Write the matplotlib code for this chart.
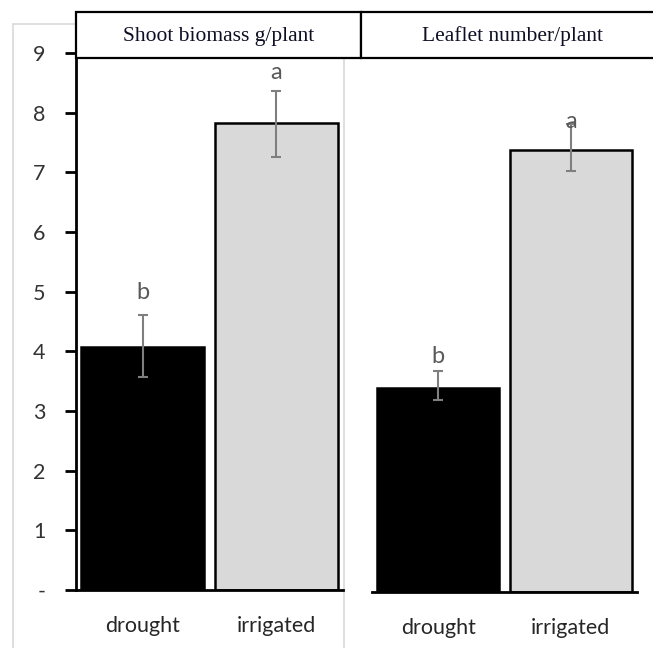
import matplotlib.pyplot as plt
from matplotlib.patches import Rectangle

# values
categories    = ['drought', 'irrigated']
shoot_mean    = [4.07, 7.83]
shoot_err_lo  = [0.50, 0.57]
shoot_err_hi  = [0.54, 0.53]
shoot_letters = ['b', 'a']
shoot_let_y   = [4.98, 8.68]

leaf_mean     = [3.42, 7.41]
leaf_err_lo   = [0.20, 0.35]
leaf_err_hi   = [0.28, 0.43]
leaf_letters  = ['b', 'a']
leaf_let_y    = [3.94, 7.89]

yticks       = [0, 1, 2, 3, 4, 5, 6, 7, 8, 9]
ytick_labels = ['-', '1', '2', '3', '4', '5', '6', '7', '8', '9']
titles       = ['Shoot biomass g/plant', 'Leaflet number/plant']

BAR_COLORS = ['black', '#d9d9d9']
ERR_COLOR  = '#7f7f7f'
W, H = 653, 648

fig = plt.figure(figsize=(W / 100, H / 100), dpi=100)

def px_axes(left, right, bottom, top):
    return fig.add_axes([left / W, 1 - bottom / H, (right - left) / W, (bottom - top) / H])

# light gray chart-area frame around the left panel
fig.add_artist(Rectangle((13 / W, -0.05), (344 - 13) / W, 1.05 - 24 / H,
                         transform=fig.transFigure, fill=False,
                         edgecolor='#d9d9d9', linewidth=1.2, zorder=0))

ax1 = px_axes(76, 343, 590, 53)
ax2 = px_axes(372, 637, 592, 55)

panels = [
    (ax1, shoot_mean, shoot_err_lo, shoot_err_hi, shoot_letters, shoot_let_y),
    (ax2, leaf_mean, leaf_err_lo, leaf_err_hi, leaf_letters, leaf_let_y),
]

for ax, mean, lo, hi, letters, let_y in panels:
    x = range(len(categories))
    ax.bar(x, mean, width=0.92, color=BAR_COLORS, edgecolor='black', linewidth=1.8, zorder=2)
    ax.errorbar(x, mean, yerr=[lo, hi], fmt='none', ecolor=ERR_COLOR,
                elinewidth=1.5, capsize=3.5, capthick=1.5, zorder=3)
    for xi, letter, ly in zip(x, letters, let_y):
        ax.text(xi, ly, letter, ha='center', va='center', fontsize=17,
                family='Lato', color='#595959', zorder=4)
    ax.set_xlim(-0.5, 1.5)
    ax.set_ylim(0, 9)
    ax.set_xticks(list(x))
    ax.set_xticklabels(categories, family='Lato', fontsize=15.5, color='#262626')
    ax.tick_params(axis='x', length=0, pad=19)
    ax.patch.set_alpha(0)
    for side in ['top', 'right']:
        ax.spines[side].set_visible(False)
    ax.spines['bottom'].set_linewidth(2)

ax1.set_yticks(yticks)
ax1.set_yticklabels(ytick_labels, family='Lato', fontsize=15.5, color='#333333')
ax1.tick_params(axis='y', length=8, width=2, pad=14)
ax1.spines['left'].set_linewidth(2)

ax2.spines['left'].set_visible(False)
ax2.set_yticks([])

# header strips
headers = [(76, 361), (361, 663)]
for (l, r), title in zip(headers, titles):
    fig.add_artist(Rectangle((l / W, 1 - 58 / H), (r - l) / W, 46 / H,
                             transform=fig.transFigure, facecolor='white',
                             edgecolor='black', linewidth=1.6, zorder=5))
    fig.text((l + r) / 2 / W, 1 - 36 / H, title, ha='center', va='center',
             family='Liberation Serif', fontsize=15.5, color='#0f0f24', zorder=6)

fig.savefig('out.png', dpi=100)
